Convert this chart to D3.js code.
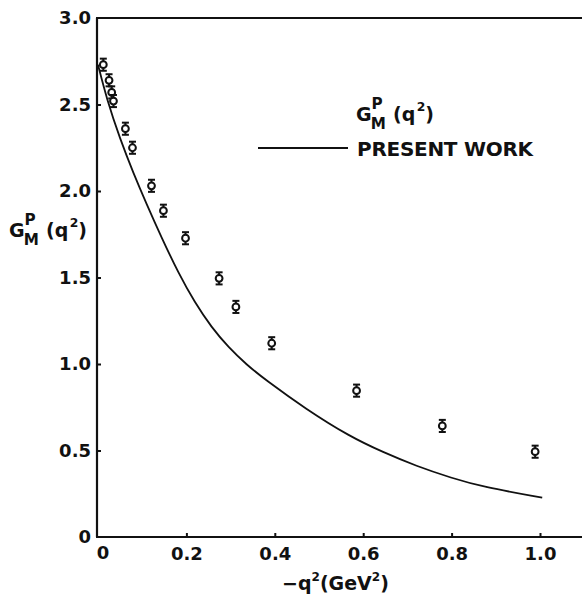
<!DOCTYPE html>
<meta charset="utf-8">
<style>
    body { margin: 0; background: #fff; }
    svg text { font-family: "DejaVu Sans", sans-serif; font-weight: bold; fill: #111; }
    .axis text { font-size: 18px; }
    .axis path { display: none; }
    .axis line { stroke: #111; stroke-width: 2; }
</style>
<svg width="582" height="594"></svg>
<script src="https://cdn.jsdelivr.net/npm/d3@7"></script>
<script>

    // measured points (-q^2 in GeV^2, G_M^p)
    var qData = [0.012, 0.025, 0.031, 0.035, 0.062, 0.078, 0.121, 0.148, 0.198, 0.274, 0.312, 0.393, 0.585, 0.779, 0.989];
    var gData = [2.73, 2.64, 2.57, 2.52, 2.36, 2.25, 2.03, 1.886, 1.727, 1.495, 1.33, 1.12, 0.846, 0.642, 0.493];
    var gErr  = [0.035, 0.035, 0.035, 0.035, 0.035, 0.035, 0.035, 0.035, 0.035, 0.035, 0.035, 0.035, 0.035, 0.035, 0.035];

    // "present work" curve
    var curveQ = [0, 0.02, 0.05, 0.08, 0.11, 0.144, 0.182, 0.219, 0.257, 0.295, 0.337, 0.378, 0.47, 0.57, 0.645, 0.72, 0.80, 0.87, 1.005];
    var curveG = [2.73, 2.53, 2.30, 2.104, 1.924, 1.73, 1.525, 1.355, 1.211, 1.097, 0.994, 0.91, 0.74, 0.58, 0.49, 0.41, 0.341, 0.29, 0.227];

    var xTicks = [0, 0.2, 0.4, 0.6, 0.8, 1.0];
    var xTickLabels = ["0", "0.2", "0.4", "0.6", "0.8", "1.0"];
    var yTicks = [0, 0.5, 1.0, 1.5, 2.0, 2.5, 3.0];
    var yTickLabels = ["0", "0.5", "1.0", "1.5", "2.0", "2.5", "3.0"];

    var svg = d3.select("svg"),
        W = +svg.attr("width");

    var x = d3.scaleLinear().domain([0, 1]).range([98, 540]),
        y = d3.scaleLinear().domain([0, 3]).range([537, 18]);

    // frame: left axis, bottom axis, top line (open on the right)
    var frame = svg.append("g").attr("stroke", "#111").attr("stroke-width", 2.2).attr("fill", "none");
    frame.append("line").attr("x1", x(0) - 1).attr("x2", x(0) - 1).attr("y1", y(3)).attr("y2", y(0));
    frame.append("line").attr("x1", x(0) - 2).attr("x2", W).attr("y1", y(0)).attr("y2", y(0));
    frame.append("line").attr("x1", x(0) - 2).attr("x2", W).attr("y1", y(3)).attr("y2", y(3));

    svg.append("g")
        .attr("class", "axis")
        .attr("transform", "translate(0," + y(0) + ")")
        .call(d3.axisBottom(x).tickValues(xTicks.slice(1))
            .tickSizeInner(-4).tickSizeOuter(0).tickPadding(10)
            .tickFormat(function(d) { return xTickLabels[xTicks.indexOf(d)]; }));

    svg.append("g")
        .attr("class", "axis")
        .attr("transform", "translate(" + (x(0) - 1) + ",0)")
        .call(d3.axisRight(y).tickValues(yTicks.slice(1, -1))
            .tickSizeInner(4).tickSizeOuter(0).tickFormat(""));

    // y tick labels drawn separately so they sit outside the frame
    svg.append("g").selectAll("text")
        .data(yTicks)
        .enter().append("text")
        .attr("x", x(0) - 7)
        .attr("y", function(d) { return y(d); })
        .attr("dy", "0.36em")
        .attr("text-anchor", "end")
        .style("font-size", "18px")
        .text(function(d, i) { return yTickLabels[i]; });

    svg.append("text")
        .attr("x", x(0) + 5)
        .attr("y", y(0) + 22)
        .attr("text-anchor", "middle")
        .style("font-size", "18px")
        .text(xTickLabels[0]);

    // theory curve
    var pts = curveQ.map(function(q, i) { return [x(q), y(curveG[i])]; });
    svg.append("path")
        .attr("d", d3.line().curve(d3.curveBasis)(pts))
        .attr("fill", "none")
        .attr("stroke", "#111")
        .attr("stroke-width", 1.8);

    // data points with error bars
    var pt = svg.append("g").selectAll("g")
        .data(qData)
        .enter().append("g")
        .attr("stroke", "#111")
        .attr("stroke-width", 2);

    pt.append("line")
        .attr("x1", function(d) { return x(d); })
        .attr("x2", function(d) { return x(d); })
        .attr("y1", function(d, i) { return y(gData[i] + gErr[i]); })
        .attr("y2", function(d, i) { return y(gData[i] - gErr[i]); });
    pt.append("line")
        .attr("x1", function(d) { return x(d) - 3.5; })
        .attr("x2", function(d) { return x(d) + 3.5; })
        .attr("y1", function(d, i) { return y(gData[i] + gErr[i]); })
        .attr("y2", function(d, i) { return y(gData[i] + gErr[i]); });
    pt.append("line")
        .attr("x1", function(d) { return x(d) - 3.5; })
        .attr("x2", function(d) { return x(d) + 3.5; })
        .attr("y1", function(d, i) { return y(gData[i] - gErr[i]); })
        .attr("y2", function(d, i) { return y(gData[i] - gErr[i]); });
    pt.append("circle")
        .attr("cx", function(d) { return x(d); })
        .attr("cy", function(d, i) { return y(gData[i]); })
        .attr("r", 3.4)
        .attr("fill", "#fff");

    // G_M^P(q^2) label helper
    function gLabel(x0, y0, size) {
        var t = svg.append("g").attr("transform", "translate(" + x0 + "," + y0 + ")");
        t.append("text").attr("x", 0).attr("y", 0).style("font-size", size + "px").text("G");
        t.append("text").attr("x", size * 0.82).attr("y", -size * 0.62).style("font-size", (size * 0.8) + "px").text("P");
        t.append("text").attr("x", size * 0.78).attr("y", size * 0.42).style("font-size", (size * 0.8) + "px").text("M");
        t.append("text").attr("x", size * 1.95).attr("y", 0).style("font-size", size + "px").text("(q");
        t.append("text").attr("x", size * 3.2).attr("y", -size * 0.55).style("font-size", (size * 0.65) + "px").text("2");
        t.append("text").attr("x", size * 3.65).attr("y", 0).style("font-size", size + "px").text(")");
    }

    gLabel(9, 237, 19);
    gLabel(356, 121, 19);

    // legend line
    svg.append("line")
        .attr("x1", 258).attr("x2", 348)
        .attr("y1", 148).attr("y2", 148)
        .attr("stroke", "#111").attr("stroke-width", 1.8);
    svg.append("text")
        .attr("x", 357).attr("y", 156)
        .attr("textLength", 176)
        .style("font-size", "20px")
        .text("PRESENT WORK");

    // x axis title
    var xt = svg.append("text")
        .attr("x", 282).attr("y", 590)
        .style("font-size", "19px");
    xt.append("tspan").text("\u2212q");
    xt.append("tspan").attr("dy", -9).style("font-size", "12px").text("2");
    xt.append("tspan").attr("dy", 9).text("(GeV");
    xt.append("tspan").attr("dy", -9).style("font-size", "12px").text("2");
    xt.append("tspan").attr("dy", 9).text(")");

</script>
